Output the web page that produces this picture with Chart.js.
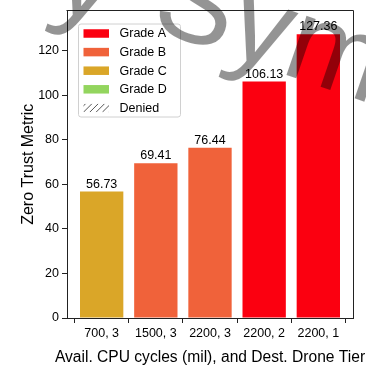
<!DOCTYPE html>
<html>
<head>
<meta charset="utf-8">
<script src="https://cdn.jsdelivr.net/npm/chart.js@4/dist/chart.umd.min.js"></script>
<style>
  html, body { margin: 0; padding: 0; background: #ffffff; }
  canvas { display: block; }
</style>
</head>
<body>
<canvas id="chart" width="366" height="370"></canvas>
<script>
// Configurations: available CPU cycles (mil) and destination drone tier
const categories = ['700, 3', '1500, 3', '2200, 3', '2200, 2', '2200, 1'];
// Zero trust metric per configuration
const values = [56.73, 69.41, 76.44, 106.13, 127.36];
// Trust grade of each configuration
const grades = ['C', 'B', 'B', 'A', 'A'];
const yTicks = [0, 20, 40, 60, 80, 100, 120];
const legendLabels = ['Grade A', 'Grade B', 'Grade C', 'Grade D', 'Denied'];
const legendKeys = ['A', 'B', 'C', 'D', 'denied'];
const xTitle = 'Avail. CPU cycles (mil), and Dest. Drone Tier';
const yTitle = 'Zero Trust Metric';
const watermarkLead = 'y';
const watermarkWord = 'Sym';

const gradeColors = { A: '#fb0010', B: '#f0623a', C: '#daa628', D: '#93d55e' };
const FONT = "'Liberation Sans', Arial, Helvetica, sans-serif";

// Top and right spines to close the axes box
const frame = {
  id: 'frame',
  afterDraw(chart) {
    const { ctx, chartArea: a } = chart;
    ctx.save();
    ctx.strokeStyle = '#222';
    ctx.lineWidth = 1;
    ctx.beginPath();
    ctx.moveTo(Math.round(a.left) - 0.5, Math.round(a.top) - 0.5);
    ctx.lineTo(Math.round(a.right) + 0.5, Math.round(a.top) - 0.5);
    ctx.lineTo(Math.round(a.right) + 0.5, Math.round(a.bottom));
    ctx.stroke();
    ctx.restore();
  }
};

// X-axis title, allowed to run wider than the plot area
const xTitlePlugin = {
  id: 'xTitle',
  afterDraw(chart) {
    const { ctx, chartArea: a } = chart;
    ctx.save();
    ctx.font = '15.6px ' + FONT;
    ctx.fillStyle = '#000';
    ctx.textAlign = 'center';
    ctx.textBaseline = 'middle';
    ctx.fillText(xTitle, (a.left + a.right) / 2, chart.height - 12);
    ctx.restore();
  }
};

// Value printed above each bar
const valueLabels = {
  id: 'valueLabels',
  afterDatasetsDraw(chart) {
    const { ctx } = chart;
    const meta = chart.getDatasetMeta(0);
    ctx.save();
    ctx.font = '12.5px ' + FONT;
    ctx.fillStyle = '#000';
    ctx.textAlign = 'center';
    ctx.textBaseline = 'alphabetic';
    meta.data.forEach((bar, i) => {
      ctx.fillText(values[i].toFixed(2), bar.x, bar.y - 4);
    });
    ctx.restore();
  }
};

// Legend box in the upper-left corner of the plot
const legendBox = {
  id: 'legendBox',
  afterDraw(chart) {
    const { ctx, chartArea: a } = chart;
    const x0 = a.left + 11.5, y0 = a.top + 13.5, w = 102, h = 93;
    ctx.save();
    ctx.beginPath();
    ctx.roundRect(x0, y0, w, h, 2.5);
    ctx.fillStyle = 'rgba(255,255,255,0.8)';
    ctx.fill();
    ctx.strokeStyle = '#d0d0d0';
    ctx.lineWidth = 1;
    ctx.stroke();
    ctx.font = '12.5px ' + FONT;
    ctx.textAlign = 'left';
    ctx.textBaseline = 'middle';
    const px = x0 + 5, pw = 25.5, ph = 8.5;
    legendLabels.forEach((lab, i) => {
      const cy = y0 + 9.5 + i * 18.6;
      const key = legendKeys[i];
      if (key === 'denied') {
        ctx.save();
        ctx.beginPath();
        ctx.rect(px, cy - ph / 2, pw, ph);
        ctx.clip();
        ctx.strokeStyle = '#555';
        ctx.lineWidth = 1;
        for (let k = -1; k < 6; k++) {
          const bx = px + k * 6.3;
          ctx.beginPath();
          ctx.moveTo(bx, cy + ph / 2);
          ctx.lineTo(bx + ph, cy - ph / 2);
          ctx.stroke();
        }
        ctx.restore();
      } else {
        ctx.fillStyle = gradeColors[key];
        ctx.fillRect(px, cy - ph / 2, pw, ph);
      }
      ctx.fillStyle = '#000';
      ctx.fillText(lab, x0 + 41, cy + 0.5);
    });
    ctx.restore();
  }
};

// Translucent watermark lettering across the top
const watermark = {
  id: 'watermark',
  afterDraw(chart) {
    const { ctx } = chart;
    ctx.save();
    ctx.font = '118px ' + FONT;
    const lead = ctx.measureText(watermarkLead + ' ').width;
    ctx.translate(156, 30);
    ctx.rotate(19 * Math.PI / 180);
    ctx.fillStyle = 'rgba(0,0,0,0.42)';
    ctx.textBaseline = 'alphabetic';
    ctx.fillText(watermarkLead, -lead - 17, 13);
    ctx.fillText(watermarkWord, -8, 0);
    ctx.restore();
  }
};

new Chart(document.getElementById('chart'), {
  type: 'bar',
  data: {
    datasets: [{
      data: values.map((v, i) => ({ x: i, y: v })),
      backgroundColor: grades.map(g => gradeColors[g]),
      borderWidth: 0,
      barPercentage: 0.8,
      categoryPercentage: 1.0
    }]
  },
  options: {
    responsive: false,
    animation: false,
    devicePixelRatio: 1,
    layout: { padding: { left: 0, right: 13, top: 10, bottom: 0 } },
    plugins: { legend: { display: false }, tooltip: { enabled: false } },
    scales: {
      x: {
        type: 'linear',
        min: -0.64,
        max: 4.64,
        offset: false,
        afterBuildTicks: s => { s.ticks = categories.map((c, i) => ({ value: i })); },
        afterFit: s => { s.height = 52; },
        ticks: {
          callback: v => categories[v],
          font: { family: FONT, size: 12.5 },
          color: '#000',
          padding: 3,
          maxRotation: 0,
          autoSkip: false
        },
        grid: { display: true, drawOnChartArea: false, drawTicks: true, tickLength: 5, color: '#222' },
        border: { display: true, color: '#222', width: 1 },
        title: { display: false }
      },
      y: {
        type: 'linear',
        min: 0,
        max: 138,
        afterBuildTicks: s => { s.ticks = yTicks.map(v => ({ value: v })); },
        afterFit: s => { s.width = 67; },
        ticks: {
          font: { family: FONT, size: 12.5 },
          color: '#000',
          padding: 3
        },
        grid: { display: true, drawOnChartArea: false, drawTicks: true, tickLength: 5, color: '#222' },
        border: { display: true, color: '#222', width: 1 },
        title: {
          display: true,
          text: yTitle,
          font: { family: FONT, size: 16 },
          color: '#000',
          padding: { top: 19, bottom: 0 }
        }
      }
    }
  },
  plugins: [frame, valueLabels, legendBox, xTitlePlugin, watermark]
});
</script>
</body>
</html>
